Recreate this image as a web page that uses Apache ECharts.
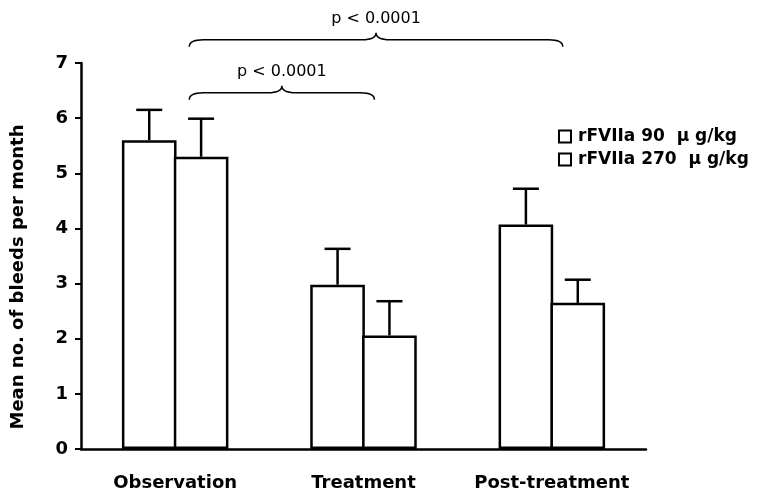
<!DOCTYPE html>
<html>
<head>
<meta charset="utf-8">
<script src="https://cdn.jsdelivr.net/npm/echarts@6/dist/echarts.min.js"></script>
<style>
  html, body { margin: 0; padding: 0; background: #fff; }
  #chart { width: 768px; height: 500px; }
</style>
</head>
<body>
<div id="chart"></div>
<script>
const categories = ['Observation', 'Treatment', 'Post-treatment'];
const seriesNames = ['rFVIIa 90  \u03bc g/kg', 'rFVIIa 270  \u03bc g/kg'];
const mean90 = [5.6, 2.98, 4.07];
const mean270 = [5.3, 2.06, 2.65];
const err90 = [0.55, 0.65, 0.65];
const err270 = [0.69, 0.62, 0.42];
// comparisons: [from category, to category, bracket level]
const braceFrom = [0, 0];
const braceTo = [1, 2];
const braceLevel = [6.46, 7.42];
const braceText = ['p < 0.0001', 'p < 0.0001'];

const FONT = '"DejaVu Sans", sans-serif';
const BAR_W = 0.29;
const GAP = -0.05;

let errData = [];
for (let i = 0; i < categories.length; i++) {
  errData.push([i, 0, mean90[i], mean90[i] + err90[i]]);
  errData.push([i, 1, mean270[i], mean270[i] + err270[i]]);
}
let braceData = braceFrom.map((f, i) => [f, braceTo[i], braceLevel[i], i]);

const barStyle = { color: '#fff', borderColor: '#000', borderWidth: 2.5 };

let myChart = echarts.init(document.getElementById('chart'));
myChart.setOption({
  animation: false,
  backgroundColor: '#fff',
  grid: { left: 81, right: 122, top: 63, bottom: 51 },
  legend: {
    orient: 'vertical',
    left: 553,
    top: 123,
    icon: 'rect',
    itemWidth: 12,
    itemHeight: 12,
    itemGap: 6,
    data: seriesNames,
    itemStyle: { color: '#fff', borderColor: '#000', borderWidth: 2 },
    textStyle: { fontFamily: FONT, fontWeight: 'bold', fontSize: 17, color: '#000', padding: [0, 0, 0, 2] }
  },
  xAxis: {
    type: 'category',
    data: categories,
    axisLine: { lineStyle: { color: '#000', width: 2.5 } },
    axisTick: { length: 7, lineStyle: { color: '#000', width: 2 } },
    axisLabel: { interval: 0, margin: 25, color: '#000', fontFamily: FONT, fontWeight: 'bold', fontSize: 18 }
  },
  yAxis: {
    type: 'value',
    min: 0,
    max: 7,
    interval: 1,
    name: 'Mean no. of bleeds per month',
    nameLocation: 'middle',
    nameGap: 54,
    nameTextStyle: { color: '#000', fontFamily: FONT, fontWeight: 'bold', fontSize: 18, padding: [0, 0, 0, -42] },
    axisLine: { show: true, lineStyle: { color: '#000', width: 2.5 } },
    axisTick: { show: true, length: 6, lineStyle: { color: '#000', width: 2 } },
    axisLabel: { margin: 13, color: '#000', fontFamily: FONT, fontWeight: 'bold', fontSize: 18 },
    splitLine: { show: false }
  },
  series: [
    {
      name: seriesNames[0],
      type: 'bar',
      data: mean90,
      barWidth: (BAR_W * 100) + '%',
      barGap: (GAP * 100) + '%',
      itemStyle: barStyle
    },
    {
      name: seriesNames[1],
      type: 'bar',
      data: mean270,
      barWidth: (BAR_W * 100) + '%',
      barGap: (GAP * 100) + '%',
      itemStyle: barStyle
    },
    {
      // upper error bars
      type: 'custom',
      data: errData,
      encode: { x: 0, y: [2, 3] },
      z: 3,
      renderItem: function (params, api) {
        let cat = api.value(0);
        let side = api.value(1);
        let band = api.size([1, 0])[0];
        let off = (side === 0 ? -1 : 1) * band * BAR_W * (1 + GAP) / 2;
        let p0 = api.coord([cat, api.value(2)]);
        let p1 = api.coord([cat, api.value(3)]);
        let x = p0[0] + off;
        let st = { stroke: '#000', lineWidth: 2.5 };
        return {
          type: 'group',
          children: [
            { type: 'line', shape: { x1: x, y1: p0[1], x2: x, y2: p1[1] }, style: st },
            { type: 'line', shape: { x1: x - 13, y1: p1[1], x2: x + 13, y2: p1[1] }, style: st }
          ]
        };
      }
    },
    {
      // p-value braces
      type: 'custom',
      data: braceData,
      encode: { x: [0, 1], y: 2 },
      clip: false,
      z: 4,
      renderItem: function (params, api) {
        let band = api.size([1, 0])[0];
        let a = api.coord([api.value(0), api.value(2)]);
        let b = api.coord([api.value(1), api.value(2)]);
        let x1 = a[0] + band * 0.075;
        let x2 = b[0] + band * 0.058;
        let y = a[1];
        let yEnd = y + 7, yPeak = y - 7;
        let xm = (x1 + x2) / 2;
        let r = 14;
        let d = 'M' + x1 + ' ' + yEnd +
          ' Q' + x1 + ' ' + y + ' ' + (x1 + r) + ' ' + y +
          ' L' + (xm - r) + ' ' + y +
          ' Q' + xm + ' ' + y + ' ' + xm + ' ' + yPeak +
          ' Q' + xm + ' ' + y + ' ' + (xm + r) + ' ' + y +
          ' L' + (x2 - r) + ' ' + y +
          ' Q' + x2 + ' ' + y + ' ' + x2 + ' ' + yEnd;
        return {
          type: 'group',
          children: [
            { type: 'path', shape: { pathData: d }, style: { fill: null, stroke: '#000', lineWidth: 1.5 } },
            {
              type: 'text',
              style: {
                text: braceText[api.value(3)],
                x: xm, y: yPeak - 14,
                align: 'center', verticalAlign: 'middle',
                fill: '#000', font: '16px ' + FONT
              }
            }
          ]
        };
      }
    }
  ]
});
</script>
</body>
</html>
